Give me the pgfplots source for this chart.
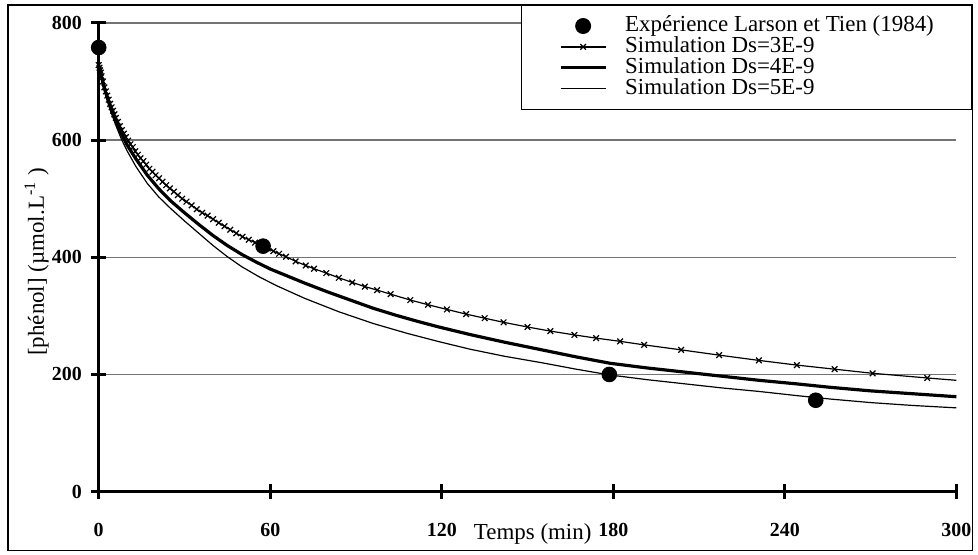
\documentclass[border=0pt]{standalone}
\usepackage{fontspec}
\setmainfont{Liberation Serif}
\usepackage{pgfplots}
\pgfplotsset{compat=1.18}
\definecolor{gridgray}{rgb}{0.45,0.45,0.45}
\begin{document}
\begin{tikzpicture}
\begin{axis}[
  scale only axis, width=430pt, height=235pt,
  xmin=0, xmax=300, ymin=0, ymax=800,
  axis x line*=bottom, axis y line*=left,
  axis line style={line width=1.5pt, black},
  xtick={0,60,...,300}, ytick={0,200,...,800},
  tick align=center, major tick length=7.5pt,
  tick style={line width=1.5pt, black},
  ymajorgrids, grid style={line width=0.6pt, gridgray},
  /pgf/number format/assume math mode=true,
  ticklabel style={font=\fontsize{10}{12}\selectfont\bfseries},
  xticklabel style={yshift=-8.5pt},
  yticklabel style={xshift=-1.2pt},
  xlabel={Temps (min)},
  xlabel style={at={(axis description cs:0.506,-0.102)}, anchor=base, font=\fontsize{11.5}{13}\selectfont},
  ylabel={[phénol] (µmol.L\textsuperscript{-1} )},
  ylabel style={at={(axis description cs:-0.064,0.49)}, anchor=base, font=\fontsize{11.5}{13}\selectfont},
  clip=false,
  legend image code/.code={\draw[mark repeat=2,mark phase=2,#1] plot coordinates {(0pt,0pt)(11.25pt,0pt)(22.5pt,0pt)};},
  legend cell align=left,
  legend style={at={(rel axis cs:1.0186,1.0383)}, anchor=north east, draw=black, line width=0.6pt,
    font=\fontsize{11.5}{11.5}\selectfont, inner xsep=19pt, inner ysep=5pt, row sep=0pt, column sep=9pt,
    nodes={inner sep=0pt, text height=8pt, text depth=2.5pt}},
]
\path (rel axis cs:-0.1151,-0.1340) rectangle (rel axis cs:1.0221,1.0489);
\draw[line width=0.6pt, black] (rel axis cs:-0.1058,-0.1255) rectangle (rel axis cs:1.0186,1.0383);

\addlegendimage{black, only marks, mark=*, mark size=3.7pt}
\addlegendentry{Expérience Larson et Tien (1984)}
\addlegendimage{black, line width=0.6pt, mark=x, mark size=2pt, mark options={solid, line width=0.6pt}}
\addlegendentry{Simulation Ds=3E-9}

% Ds = 4E-9
\addplot[black, line width=1.6pt, line join=round] coordinates {
(0,728) (2,688) (4,657) (6,632) (8,610) (10,591) (13,568) (17,540) (21,517) (25,497)
(30,476) (35,456) (40,437) (45,420) (50,405) (55,392) (60,380) (66,368) (72,356) (80,341)
(88,327) (96,313) (104,301) (112,290) (119,281) (130,268) (142,255) (155,242) (167,230)
(179,219) (192,211) (205,204) (218,197) (231,190) (244,184) (256,178) (270,172) (285,167) (300,162)
};
\addlegendentry{Simulation Ds=4E-9}

% Ds = 5E-9
\addplot[black, line width=0.6pt, line join=round] coordinates {
(0,728) (2,685) (4,652) (6,625) (8,601) (10,581) (13,555) (17,526) (21,503) (25,484)
(30,462) (35,441) (40,420) (45,401) (50,384) (56,367) (62,352) (72,330) (84,307) (96,287)
(108,270) (119,256) (130,243) (142,231) (155,220) (167,209) (179,199) (192,191) (205,184)
(218,177) (231,171) (244,164) (256,158) (270,152) (285,147) (300,143)
};
\addlegendentry{Simulation Ds=5E-9}

% Ds = 3E-9 line
\addplot[black, line width=0.6pt, forget plot] coordinates {
(0,728) (0.25,723.5) (0.5,719) (0.75,715) (1,709) (1.5,700) (2,690) (2.5,683) (3,676) (3.5,669)
(4,662) (4.5,656) (5,650) (5.5,644) (6,638) (6.7,631) (7.4,624) (8.1,617) (8.8,611) (9.5,605)
(10.3,599) (11.1,593) (11.9,588) (12.8,581) (13.7,575) (14.6,569) (15.6,564) (16.6,558) (17.7,551)
(18.8,546) (19.9,540) (21.1,535) (22.3,529) (23.6,523) (24.9,517.5) (26.3,512) (27.7,506) (29.2,500)
(30.7,495) (32.5,488.5) (34.3,482) (36.2,476) (38.1,471) (40.0,465) (42.0,459) (44.0,453) (46.0,447)
(48.1,441) (50.3,435) (52.5,430) (54.7,425) (56.9,420) (59.1,415) (61.1,410.5) (63.1,406) (65.5,401)
(68.9,393) (72.4,386) (75.3,380.5) (79.6,373) (84.0,365) (88.7,357) (93.1,350) (97.4,344) (102.1,337)
(109,327) (115.2,319) (121.8,311) (128.5,303) (135,296) (141.6,289) (150,281) (158,274) (166.4,267.5)
(174,262) (182.4,256.5) (190.8,250.5) (203.7,242) (217,233) (230.9,224) (244.2,216) (257.4,209)
(270.7,202) (289.8,194) (300,190)
};
% Ds = 3E-9 markers
\addplot[black, only marks, mark=x, mark size=2pt, mark options={line width=0.6pt}, forget plot] coordinates {
(0,728) (0.25,723.5) (0.5,719) (0.75,715) (1,709) (1.5,700) (2,690) (2.5,683) (3,676) (3.5,669)
(4,662) (4.5,656) (5,650) (5.5,644) (6,638) (6.7,631) (7.4,624) (8.1,617) (8.8,611) (9.5,605)
(10.3,599) (11.1,593) (11.9,588) (12.8,581) (13.7,575) (14.6,569) (15.6,564) (16.6,558) (17.7,551)
(18.8,546) (19.9,540) (21.1,535) (22.3,529) (23.6,523) (24.9,517.5) (26.3,512) (27.7,506) (29.2,500)
(30.7,495) (32.5,488.5) (34.3,482) (36.2,476) (38.1,471) (40.0,465) (42.0,459) (44.0,453) (46.0,447)
(48.1,441) (50.3,435) (52.5,430) (54.7,425) (56.9,420) (59.1,415) (61.1,410.5) (63.1,406) (65.5,401)
(68.9,393) (72.4,386) (75.3,380.5) (79.6,373) (84.0,365) (88.7,357) (93.1,350) (97.4,344) (102.1,337)
(109,327) (115.2,319) (121.8,311) (128.5,303) (135,296) (141.6,289) (150,281) (158,274) (166.4,267.5)
(174,262) (182.4,256.5) (190.8,250.5) (203.7,242) (217,233) (230.9,224) (244.2,216) (257.4,209)
(270.7,202) (289.8,194)
};
% Experiment
\addplot[black, only marks, mark=*, mark size=3.7pt, forget plot] coordinates {
(0,758) (57.5,419) (178.6,200) (250.8,156)
};
\end{axis}
\end{tikzpicture}
\end{document}
